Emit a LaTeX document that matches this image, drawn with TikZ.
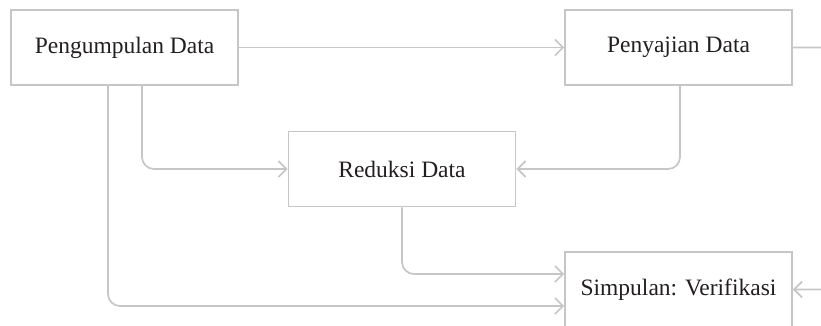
\documentclass[tikz,border=0pt]{standalone}
\usepackage{fontspec}
\setmainfont{Liberation Serif}
\usetikzlibrary{arrows.meta}
\definecolor{linegray}{HTML}{C6C6C6}
\definecolor{textdark}{HTML}{231F20}
\tikzset{
  boxnode/.style={draw=linegray, line width=1.7pt, fill=white, rectangle,
    minimum width=227pt, minimum height=75pt, inner sep=0pt,
    text=textdark, font=\fontsize{23.5}{27}\selectfont},
  conn/.style={draw=linegray, line width=1.7pt, rounded corners=12pt,
    -{Straight Barb[length=8pt,width=16pt,line width=1.7pt]}},
}
\begin{document}
\begin{tikzpicture}[x=1pt,y=-1pt]
\path[use as bounding box] (0,0) rectangle (821,326);
\clip (0,0) rectangle (821,326);
\node[boxnode] (pd) at (124.5,47.5) {Pengumpulan Data};
\node[boxnode] (pj) at (678.5,47.5) {Penyajian Data};
\node[boxnode] (rd) at (402,169) {Reduksi Data};
\node[boxnode] (sv) at (678.5,289.5) {Simpulan: Verifikasi};
\coordinate (rt) at (835,47.5);
\coordinate (rb) at (835,289.5);
\draw[conn] (pd.east) -- (pj.west);
\draw[conn] (pj.east) -- (rt) -- (rb) -- (sv.east);
\draw[conn] ([xshift=17.5pt]pd.south) |- (rd.west);
\draw[conn] ([xshift=-16.5pt]pd.south) |- ([yshift=-16.5pt]sv.west);
\draw[conn] ([xshift=1.5pt]pj.south) |- (rd.east);
\draw[conn] (rd.south) |- ([yshift=15.5pt]sv.west);
\end{tikzpicture}
\end{document}
